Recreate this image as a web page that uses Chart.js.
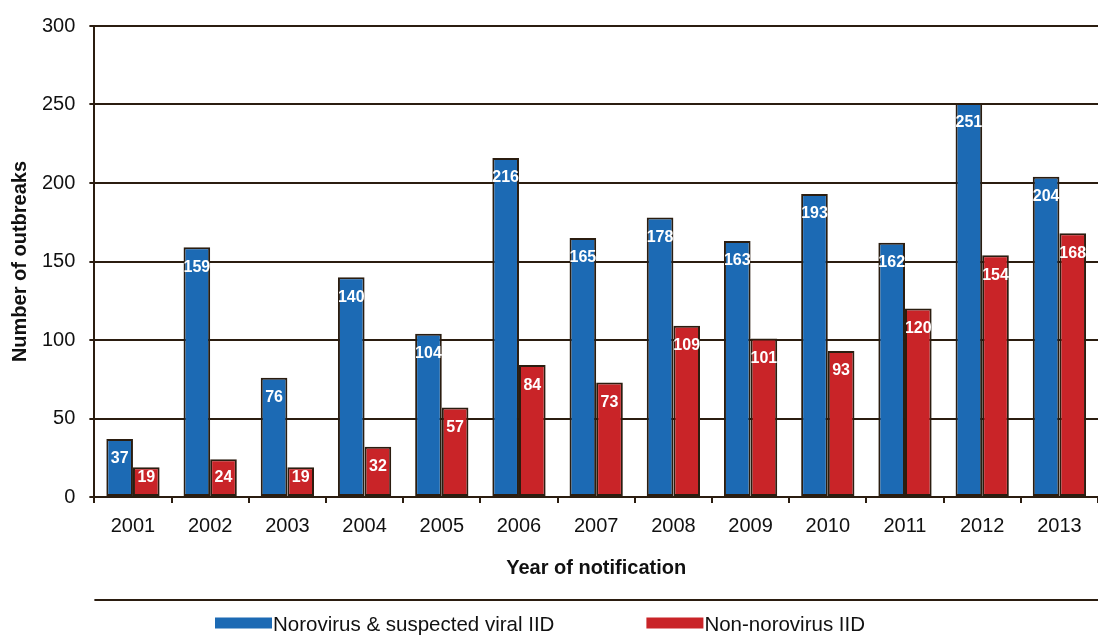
<!DOCTYPE html>
<html>
<head>
<meta charset="utf-8">
<script src="https://cdn.jsdelivr.net/npm/chart.js@4/dist/chart.umd.min.js"></script>
<style>
html,body{margin:0;padding:0;background:#fff;}
#wrap{width:1098px;height:639px;position:relative;}
</style>
</head>
<body>
<div id="wrap"><canvas id="c" width="1098" height="639"></canvas></div>
<script>
const years = ['2001','2002','2003','2004','2005','2006','2007','2008','2009','2010','2011','2012','2013'];
const norovirus = [37,159,76,140,104,216,165,178,163,193,162,251,204];
const nonNorovirus = [19,24,19,32,57,84,73,109,101,93,120,154,168];
const seriesNames = ['Norovirus & suspected viral IID','Non-norovirus IID'];

const dark = '#2b1d10';
const FONT = '"Liberation Sans", Arial, sans-serif';

const labelPlugin = {
  id: 'barLabels',
  afterDatasetsDraw(chart) {
    const ctx = chart.ctx;
    ctx.save();
    ctx.font = 'bold 16px ' + FONT;
    ctx.fillStyle = '#ffffff';
    ctx.textAlign = 'center';
    ctx.textBaseline = 'middle';
    chart.data.datasets.forEach((ds, di) => {
      const meta = chart.getDatasetMeta(di);
      meta.data.forEach((bar, i) => {
        const y = Math.min(bar.y + 20, bar.base - 18);
        ctx.fillText(String(ds.data[i]), bar.x, y);
      });
    });
    ctx.restore();
  }
};

// legend drawn below a rule, from dataset labels/colours
const bottomLegend = {
  id: 'bottomLegend',
  afterDraw(chart) {
    const ctx = chart.ctx;
    const a = chart.chartArea;
    ctx.save();
    ctx.strokeStyle = dark;
    ctx.lineWidth = 2;
    ctx.beginPath();
    ctx.moveTo(a.left, 600);
    ctx.lineTo(chart.width, 600);
    ctx.stroke();

    ctx.font = '20.5px ' + FONT;
    ctx.textBaseline = 'middle';
    ctx.textAlign = 'left';
    const boxW = 57, boxH = 11, textGap = 1, itemGap = 92;
    const items = chart.data.datasets.map(ds => ({ text: ds.label, color: ds.backgroundColor, w: ctx.measureText(ds.label).width }));
    let x = 215;
    const yC = 623;
    items.forEach(it => {
      ctx.fillStyle = it.color;
      ctx.fillRect(x, yC - boxH / 2, boxW, boxH);
      ctx.fillStyle = '#111';
      ctx.fillText(it.text, x + boxW + textGap, yC + 2);
      x += boxW + textGap + it.w + itemGap;
    });
    ctx.restore();
  }
};

new Chart(document.getElementById('c'), {
  type: 'bar',
  data: {
    labels: years,
    datasets: [
      { label: seriesNames[0], data: norovirus, backgroundColor: '#1c6ab4', borderColor: dark, borderWidth: 2, borderSkipped: false },
      { label: seriesNames[1], data: nonNorovirus, backgroundColor: '#c92428', borderColor: dark, borderWidth: 2, borderSkipped: false }
    ]
  },
  options: {
    responsive: false,
    animation: false,
    layout: { padding: { top: 20, right: 0, left: 4, bottom: 50 } },
    datasets: { bar: { categoryPercentage: 0.69, barPercentage: 1.0 } },
    plugins: {
      legend: { display: false },
      tooltip: { enabled: false }
    },
    scales: {
      x: {
        grid: { drawOnChartArea: false, drawTicks: true, tickLength: 6, color: dark, lineWidth: 2, offset: true },
        border: { display: true, color: dark, width: 2 },
        ticks: { color: '#111', font: { family: FONT, size: 20 }, padding: 11 },
        title: { display: true, text: 'Year of notification', color: '#111', font: { family: FONT, size: 20, weight: 'bold' }, padding: { top: 7, bottom: 9 } }
      },
      y: {
        min: 0, max: 300,
        ticks: { stepSize: 50, color: '#111', font: { family: FONT, size: 20 }, padding: 14 },
        grid: { color: dark, lineWidth: 2, tickLength: 5, drawTicks: true },
        border: { display: true, color: dark, width: 2 },
        title: { display: true, text: 'Number of outbreaks', color: '#111', font: { family: FONT, size: 20, weight: 'bold' }, padding: { top: 4, bottom: -4 } }
      }
    }
  },
  plugins: [labelPlugin, bottomLegend]
});
</script>
</body>
</html>
